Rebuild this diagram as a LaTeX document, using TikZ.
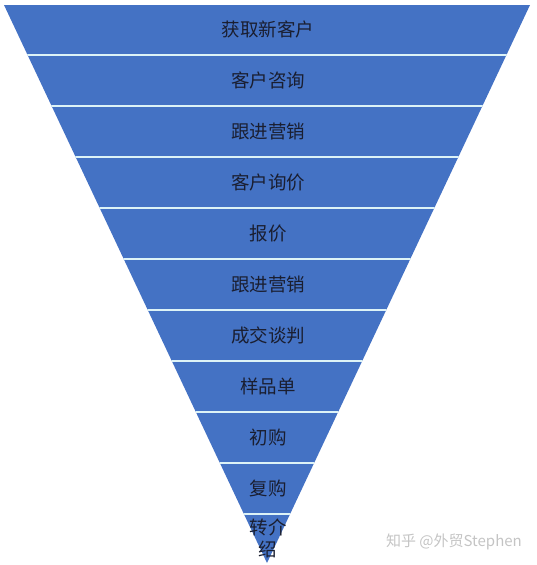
\documentclass[tikz,border=0pt]{standalone}
\usepackage{fontspec}
\setmainfont{Noto Sans CJK SC}
\usetikzlibrary{positioning}
\definecolor{funnelBlue}{HTML}{4472C4}
\definecolor{sepCyan}{HTML}{DDF3F7}
\definecolor{labelInk}{HTML}{1A1E30}
\definecolor{markGray}{HTML}{C4C4C4}

\begin{document}
\begin{tikzpicture}[x=1pt, y=-1pt,
        funnel/.style={fill=funnelBlue},
        sep/.style={draw=sepCyan, line width=1.4pt},
        stage/.style={font=\fontsize{18.5}{21.5}\selectfont, text=labelInk, inner sep=0pt, align=center},
        wmark/.style={font=\fontsize{15}{17}\selectfont, text=markGray, inner sep=0pt}
    ]
        \useasboundingbox (0,0) rectangle (536,565);
        \coordinate (tl) at (4,5);
        \coordinate (tr) at (530,5);
        \coordinate (apex) at (267,563);

        \fill[funnel] (tl) -- (tr) -- (apex) -- cycle;
        \begin{scope}
            \clip (tl) -- (tr) -- (apex) -- cycle;
            \foreach \k in {1,...,10}
                \draw[sep] (0,{4+51*\k}) -- (536,{4+51*\k});
        \end{scope}

        \foreach \txt [count=\k] in {获取新客户,客户咨询,跟进营销,客户询价,报价,跟进营销,成交谈判,样品单,初购,复购}
            \node[stage] (s\k) at (268,{4+51*\k-25.5}) {\txt};
        \node[stage] (s11) at (268,538.5) {转介\\绍};

        \node[wmark, anchor=east] (wm) at (522,542) {知乎 @外贸Stephen};
    \end{tikzpicture}
\end{document}
